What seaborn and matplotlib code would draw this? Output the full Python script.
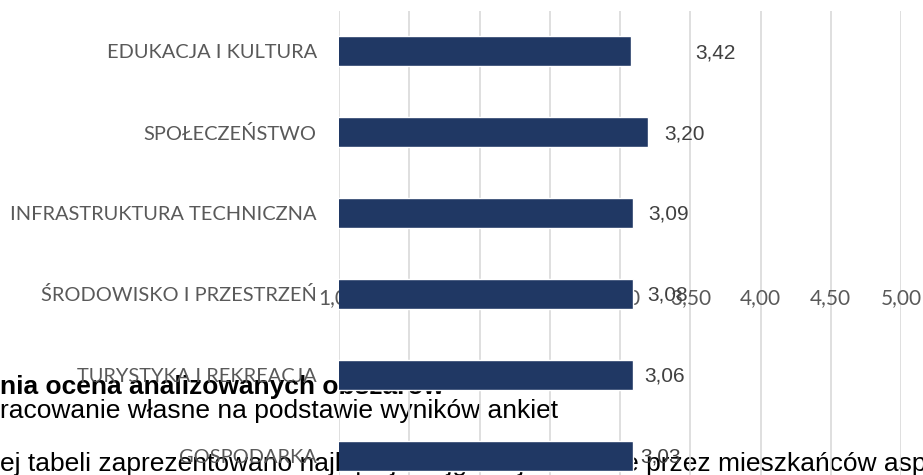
import matplotlib
matplotlib.use("Agg")
import matplotlib.pyplot as plt
import seaborn as sns
import pandas as pd

# dane z wykresu
categories = ["EDUKACJA I KULTURA", "SPOŁECZEŃSTWO", "INFRASTRUKTURA TECHNICZNA",
              "ŚRODOWISKO I PRZESTRZEŃ", "TURYSTYKA I REKREACJA", "GOSPODARKA"]
values = [3.42, 3.20, 3.09, 3.08, 3.06, 3.03]
# dlugosc slupkow (nie zgadza sie z etykietami)
bar_len = [3.08, 3.20, 3.09, 3.09, 3.09, 3.09]
xticks = [1.0, 1.5, 2.0, 2.5, 3.0, 3.5, 4.0, 4.5, 5.0]
xtick_labels = ["1,00", "1,50", "2,00", "2,50", "3,00", "3,50", "4,00", "4,50", "5,00"]

doc_lines = ["nia ocena analizowanych obszarów",
             "racowanie własne na podstawie wyników ankiet",
             "ej tabeli zaprezentowano najlepiej i najgorzej oceniane przez mieszkańców aspekty"]

df = pd.DataFrame({"obszar": categories, "dl": bar_len, "ocena": values})

sns.set_theme(style="white")
fig = plt.figure(figsize=(9.23, 4.75), dpi=100)
ax = fig.add_axes([339 / 923, 1 - 496 / 475, 562 / 923, 485 / 475])
ax.set_facecolor("none")

sns.barplot(data=df, y="obszar", x="dl", orient="h", color="#203864",
            width=0.37, saturation=1, ax=ax, zorder=2)

ax.set_xlim(1, 5)
ax.set_ylim(5.5, -0.5)
ax.set_axisbelow(True)
ax.set_xticks(xticks, xtick_labels)
ax.grid(axis="x", color="#d9d9d9", linewidth=1.2)
ax.grid(axis="y", visible=False)
for s in ax.spines.values():
    s.set_visible(False)
ax.tick_params(axis="x", length=0, pad=-150, labelsize=15, labelcolor="#595959")
ax.tick_params(axis="y", length=0, pad=16, labelsize=14.4, labelcolor="#595959")
for lab in ax.get_xticklabels() + ax.get_yticklabels():
    lab.set_fontfamily("Lato")
ax.set_xlabel("")
ax.set_ylabel("")

for i, v in enumerate(values):
    ax.annotate(f"{v:.2f}".replace(".", ","), (v, i), xytext=(11.5, -1),
                textcoords="offset points", va="center", ha="left",
                fontsize=15, color="#404040", family="Liberation Sans", zorder=3)

# tekst dokumentu pod wykresem
fig.text(0, 1 - 387 / 475, doc_lines[0], fontsize=19, fontweight="bold",
         family="Liberation Sans", va="center", color="black", zorder=-1)
fig.text(0, 1 - 411 / 475, doc_lines[1], fontsize=19,
         family="Liberation Sans", va="center", color="black", zorder=-1)
fig.text(0, 1 - 464 / 475, doc_lines[2], fontsize=19,
         family="Liberation Sans", va="center", color="black", zorder=-1)

fig.savefig("out.png", dpi=100, facecolor="white")
